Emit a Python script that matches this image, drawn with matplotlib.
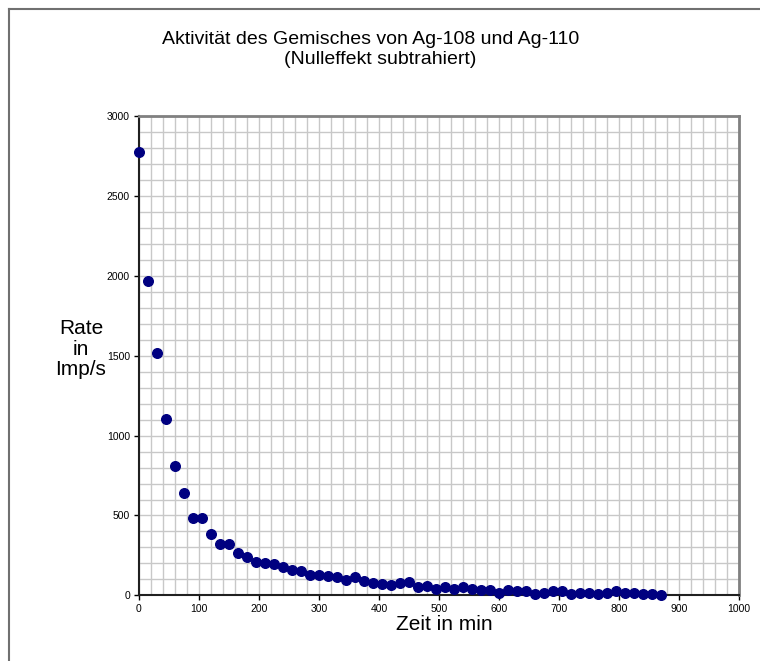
import matplotlib
matplotlib.use("Agg")
import matplotlib.pyplot as plt
from matplotlib.lines import Line2D
from matplotlib.ticker import MultipleLocator

plt.rcParams['font.family'] = ['Liberation Sans', 'DejaVu Sans']

zeit = list(range(0, 871, 15))
rate = [2775, 1970, 1515, 1103, 811, 639, 486, 486, 382, 324,
        320, 266, 239, 211, 201, 195, 178, 159, 151, 126,
        126, 124, 114, 98, 115, 90, 77, 71, 62, 79,
        81, 52, 58, 42, 52, 42, 50, 42, 31, 35,
        15, 35, 29, 25, 10, 17, 25, 27, 6, 15,
        17, 6, 17, 29, 15, 15, 10, 10, 2]

title1 = "Aktivität des Gemisches von Ag-108 und Ag-110"
title2 = "(Nulleffekt subtrahiert)"
xlabel = "Zeit in min"
ylabel = "Rate\nin\nImp/s"

W, H = 760, 661
fig = plt.figure(figsize=(W/100, H/100), dpi=100)
ax = fig.add_axes([139/W, 1-595.3/H, (739-139)/W, (595.3-116.3)/H])

ax.scatter(zeit, rate, s=48, color='#000080', zorder=3, clip_on=False)

ax.set_xlim(0, 1000)
ax.set_ylim(0, 3000)
ax.xaxis.set_major_locator(MultipleLocator(100))
ax.xaxis.set_minor_locator(MultipleLocator(20))
ax.yaxis.set_major_locator(MultipleLocator(500))
ax.yaxis.set_minor_locator(MultipleLocator(100))
ax.grid(which='both', color='#c8c8c8', linewidth=1.0, zorder=0)
ax.set_axisbelow(True)
ax.tick_params(which='major', direction='out', length=3.5, width=1, labelsize=7.5, color='black', pad=3)
ax.tick_params(which='minor', length=0)

for s in ['left', 'bottom']:
    ax.spines[s].set_color('#202020')
    ax.spines[s].set_linewidth(1.5)
for s in ['top', 'right']:
    ax.spines[s].set_color('#808080')
    ax.spines[s].set_linewidth(2)

fig.text(371/W, 1-39/H, title1, ha='center', va='center', fontsize=14)
fig.text(380/W, 1-59/H, title2, ha='center', va='center', fontsize=14)
fig.text(444/W, 1-624/H, xlabel, ha='center', va='center', fontsize=15)
fig.text(81/W, 1-349/H, ylabel, ha='center', va='center', fontsize=15, linespacing=1.1)

# outer frame
fig.add_artist(Line2D([8.5/W, 8.5/W], [0, 1-9/H], color='#707070', lw=1.5, transform=fig.transFigure))
fig.add_artist(Line2D([8.5/W, 1], [1-9/H, 1-9/H], color='#707070', lw=1.5, transform=fig.transFigure))

fig.savefig('out.png', dpi=100)
